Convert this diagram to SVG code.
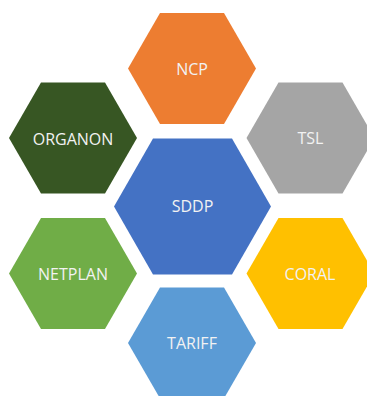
<svg xmlns="http://www.w3.org/2000/svg" width="367" height="396" viewBox="0 0 367 396">
  <style>
    .hex-label { font-family: "Open Sans", "Liberation Sans", sans-serif; font-size: 16px; fill: #F2F2F2; text-anchor: middle; }
  </style>
  <defs>
    <!-- flat-topped hexagon, outer radius 64 -->
    <polygon id="hex" points="-64,0 -32,-55.4 32,-55.4 64,0 32,55.4 -32,55.4"/>
  </defs>
  <rect width="367" height="396" fill="#FFFFFF"/>

  <g id="ncp">
    <use href="#hex" transform="translate(192,68.5)" fill="#ED7D31"/>
    <text class="hex-label" x="192" y="75">NCP</text>
  </g>

  <g id="organon">
    <use href="#hex" transform="translate(73,138)" fill="#375623"/>
    <text class="hex-label" x="73" y="145">ORGANON</text>
  </g>

  <g id="tsl">
    <use href="#hex" transform="translate(310.5,138)" fill="#A5A5A5"/>
    <text class="hex-label" x="310.5" y="144">TSL</text>
  </g>

  <g id="sddp">
    <polygon points="114,206.5 153,138.5 232,138.5 271,206.5 232,274.5 153,274.5" fill="#4472C4"/>
    <text class="hex-label" x="192.5" y="212">SDDP</text>
  </g>

  <g id="netplan">
    <use href="#hex" transform="translate(73,273.5)" fill="#70AD47"/>
    <text class="hex-label" x="73" y="280">NETPLAN</text>
  </g>

  <g id="coral">
    <use href="#hex" transform="translate(310.5,273.5)" fill="#FFC000"/>
    <text class="hex-label" x="310" y="280">CORAL</text>
  </g>

  <g id="tariff">
    <use href="#hex" transform="translate(192,343)" fill="#5B9BD5"/>
    <text class="hex-label" x="192" y="349">TARIFF</text>
  </g>
</svg>
